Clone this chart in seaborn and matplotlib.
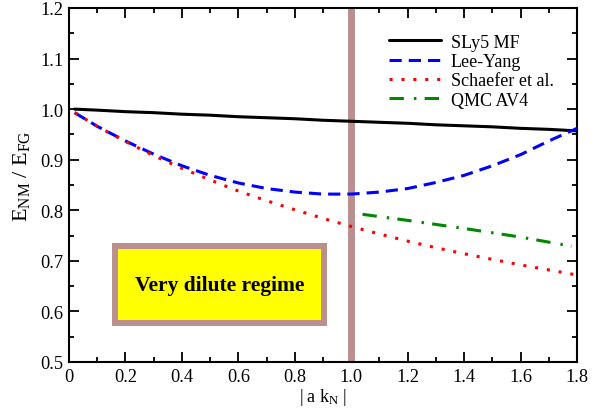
import numpy as np
import pandas as pd
import matplotlib
matplotlib.use("Agg")
import matplotlib.pyplot as plt
from matplotlib.patches import Rectangle
from matplotlib.ticker import MultipleLocator, FuncFormatter
import seaborn as sns

# |a k_N| grid for the curves
x_grid = [0.02, 0.1, 0.2, 0.3, 0.4, 0.5, 0.6, 0.7, 0.8, 0.9, 1.0,
          1.1, 1.2, 1.3, 1.4, 1.5, 1.6, 1.7, 1.8]

sly5_mf = [1.000, 0.998, 0.995, 0.993, 0.990, 0.988, 0.985, 0.983, 0.981, 0.978, 0.976,
           0.974, 0.972, 0.969, 0.967, 0.965, 0.962, 0.960, 0.957]
lee_yang = [0.993, 0.966, 0.937, 0.911, 0.888, 0.869, 0.854, 0.843, 0.836, 0.832, 0.832,
            0.836, 0.843, 0.855, 0.869, 0.888, 0.910, 0.937, 0.962]
schaefer = [0.993, 0.966, 0.936, 0.908, 0.883, 0.860, 0.838, 0.819, 0.801, 0.784, 0.768,
            0.753, 0.739, 0.726, 0.714, 0.703, 0.692, 0.682, 0.672]

x_qmc = [1.04, 1.2, 1.4, 1.6, 1.78]
qmc_av4 = [0.792, 0.780, 0.764, 0.747, 0.729]

series_labels = ["SLy5 MF", "Lee-Yang", "Schaefer et al.", "QMC AV4"]
box_text = "Very dilute regime"
x_label = r"$\mathregular{|\ a\ k_N\ |}$"
y_label = r"$\mathregular{E_{NM}\ /\ E_{FG}}$"

sns.set_theme(style="ticks")
plt.rcParams["font.family"] = ["Liberation Serif", "DejaVu Serif"]
plt.rcParams["mathtext.fontset"] = "custom"
plt.rcParams["mathtext.rm"] = "Liberation Serif"
plt.rcParams["mathtext.it"] = "Liberation Serif:italic"
plt.rcParams["mathtext.bf"] = "Liberation Serif:bold"
plt.rcParams["text.color"] = "black"
plt.rcParams["axes.labelcolor"] = "black"

fig = plt.figure(figsize=(6.09, 4.14), dpi=100)
ax = fig.add_axes([0.1133, 0.1232, 0.8342, 0.8551])

lw = 2.2
df_main = pd.DataFrame({"x": x_grid, "sly5": sly5_mf, "ly": lee_yang, "sch": schaefer})
df_qmc = pd.DataFrame({"x": x_qmc, "qmc": qmc_av4})

sns.lineplot(data=df_main, x="x", y="sly5", ax=ax, color="black", lw=lw,
             label=series_labels[0], zorder=3)
sns.lineplot(data=df_main, x="x", y="ly", ax=ax, color="#0000FF", lw=lw,
             linestyle=(0, (4.0, 2.3)), label=series_labels[1], zorder=3)
sns.lineplot(data=df_main, x="x", y="sch", ax=ax, color="#FF0000", lw=lw,
             linestyle=(0, (1.0, 2.9)), label=series_labels[2], zorder=3)
sns.lineplot(data=df_qmc, x="x", y="qmc", ax=ax, color="#008800", lw=lw,
             linestyle=(0, (4.7, 3.3, 0.8, 2.7)), label=series_labels[3], zorder=3)

# boundary of the dilute regime
ax.axvline(1.0, color="#BC8F8F", lw=5.0, zorder=2)

# labelled box
ax.add_patch(Rectangle((0.163, 0.577), 0.739, 0.152, facecolor="#FFFF00",
                       edgecolor="#BC8F8F", lw=4.3, zorder=4))
ax.text(0.5325, 0.653, box_text, ha="center", va="center", fontsize=15.5,
        fontweight="bold", color="black", zorder=5)

ax.set_xlim(0, 1.8)
ax.set_ylim(0.5, 1.2)
ax.xaxis.set_major_locator(MultipleLocator(0.2))
ax.xaxis.set_minor_locator(MultipleLocator(0.1))
ax.yaxis.set_major_locator(MultipleLocator(0.1))
ax.yaxis.set_minor_locator(MultipleLocator(0.05))
ax.xaxis.set_major_formatter(FuncFormatter(lambda v, p: "0" if abs(v) < 1e-9 else f"{v:.1f}"))
ax.yaxis.set_major_formatter(FuncFormatter(lambda v, p: f"{v:.1f}"))

ax.tick_params(which="both", direction="in", top=True, right=True,
               width=1.3, colors="black", labelsize=13.2, pad=4)
ax.tick_params(which="major", length=7.2)
ax.tick_params(which="minor", length=3.6)
for s in ax.spines.values():
    s.set_linewidth(1.5)
    s.set_color("black")

ax.set_xlabel(x_label, fontsize=13, labelpad=1, color="black")
ax.set_ylabel(y_label, fontsize=16, labelpad=4, color="black")
ax.yaxis.set_label_coords(-0.073, 0.527)

leg = ax.legend(loc="upper left", bbox_to_anchor=(0.615, 0.948), frameon=False,
                fontsize=13, handlelength=2.9, handletextpad=0.55, labelspacing=0.13,
                borderaxespad=0, labelcolor="black")

fig.savefig("out.png", dpi=100)
